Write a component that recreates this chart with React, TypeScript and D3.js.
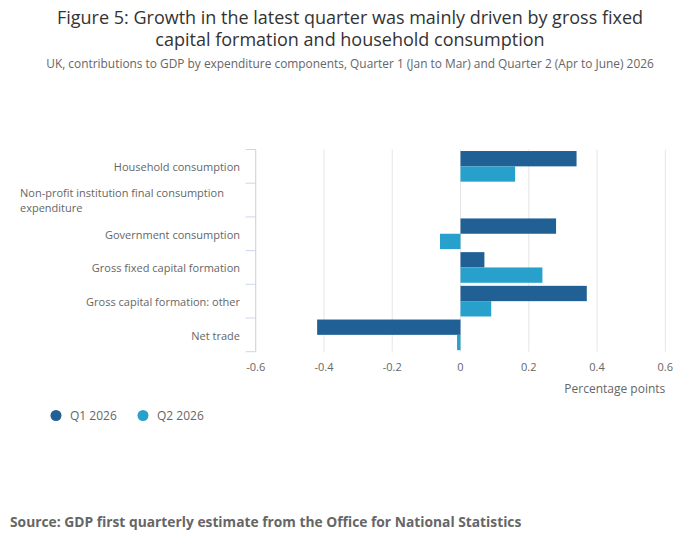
import React from "react";
import * as d3 from "d3";

const categories = [
  "Household consumption",
  "Non-profit institution final consumption expenditure",
  "Government consumption",
  "Gross fixed capital formation",
  "Gross capital formation: other",
  "Net trade",
];
const seriesNames = ["Q1 2026", "Q2 2026"];
const q1Values: (number | null)[] = [0.34, null, 0.28, 0.07, 0.37, -0.42];
const q2Values: (number | null)[] = [0.16, null, -0.06, 0.24, 0.09, -0.01];
const xTicks = [-0.6, -0.4, -0.2, 0, 0.2, 0.4, 0.6];
const colors = ["#206095", "#27a0cc"];

const W = 700;
const H = 549;
const plot = { left: 255.7, right: 665.3, top: 149.5, bottom: 351.7 };
const font = "'Open Sans', 'Noto Sans', sans-serif";

export default function App() {
  const x = d3.scaleLinear().domain([-0.6, 0.6]).range([plot.left, plot.right]);
  const yBand = d3
    .scaleBand<string>()
    .domain(categories)
    .range([plot.top, plot.bottom])
    .paddingInner(0)
    .paddingOuter(0);
  const sub = d3
    .scaleBand<string>()
    .domain(seriesNames)
    .range([0, yBand.bandwidth()])
    .paddingOuter(0.1)
    .paddingInner(0)
    .align(0.5);
  const series = [q1Values, q2Values];
  const fmt = (v: number) => String(Math.round(v * 10) / 10);

  return (
    <svg
      width={W}
      height={H}
      style={{ position: "absolute", left: 0, top: 0, fontFamily: font, background: "#fff" }}
    >
      <rect x={0} y={0} width={W} height={H} fill="#fff" />
      <text textAnchor="middle" fontSize={18} fill="#333">
        <tspan x={W / 2} y={24}>
          Figure 5: Growth in the latest quarter was mainly driven by gross fixed
        </tspan>
        <tspan x={W / 2} y={46}>
          capital formation and household consumption
        </tspan>
      </text>
      <text x={W / 2} y={68} textAnchor="middle" fontSize={11.9} fill="#666">
        UK, contributions to GDP by expenditure components, Quarter 1 (Jan to Mar) and Quarter 2 (Apr to June) 2026
      </text>

      {xTicks.map((t) => (
        <line
          key={"g" + t}
          x1={x(t)}
          x2={x(t)}
          y1={plot.top}
          y2={plot.bottom}
          stroke="#e6e6e6"
          strokeWidth={1}
        />
      ))}

      <line x1={plot.left} x2={plot.left} y1={plot.top} y2={plot.bottom} stroke="#ccd6eb" strokeWidth={1} />
      {categories.map((c, i) => (
        <line
          key={"t" + i}
          x1={plot.left - 10}
          x2={plot.left}
          y1={yBand(c)!}
          y2={yBand(c)!}
          stroke="#ccd6eb"
        />
      ))}
      <line x1={plot.left - 10} x2={plot.left} y1={plot.bottom} y2={plot.bottom} stroke="#ccd6eb" />

      {series.map((vals, si) =>
        vals.map((v, ci) => {
          if (v === null) return null;
          const y0 = yBand(categories[ci])! + sub(seriesNames[si])!;
          return (
            <rect
              key={"b" + si + "-" + ci}
              x={Math.min(x(0), x(v))}
              y={y0}
              width={Math.abs(x(v) - x(0))}
              height={sub.bandwidth()}
              fill={colors[si]}
            />
          );
        })
      )}

      {categories.map((c, i) => {
        const cy = yBand(c)! + yBand.bandwidth() / 2;
        if (i === 1) {
          return (
            <text key={"l" + i} x={20} fontSize={11} fill="#666">
              <tspan x={20} y={cy - 3}>Non-profit institution final consumption</tspan>
              <tspan x={20} y={cy + 12}>expenditure</tspan>
            </text>
          );
        }
        return (
          <text key={"l" + i} x={240} y={cy + 5} textAnchor="end" fontSize={11} fill="#666">
            {c}
          </text>
        );
      })}

      {xTicks.map((t) => (
        <text key={"xl" + t} x={x(t)} y={371} textAnchor="middle" fontSize={11} fill="#666">
          {fmt(t)}
        </text>
      ))}
      <text x={plot.right} y={393} textAnchor="end" fontSize={12} fill="#666">
        Percentage points
      </text>

      {seriesNames.map((s, i) => {
        const lx = 56 + i * 87;
        return (
          <g key={"lg" + i}>
            <circle cx={lx} cy={415.5} r={5.5} fill={colors[i]} />
            <text x={lx + 14} y={420} fontSize={12} fill="#666">
              {s}
            </text>
          </g>
        );
      })}

      <text x={10} y={527} fontSize={13.8} fontWeight="bold" fill="#666">
        Source: GDP first quarterly estimate from the Office for National Statistics
      </text>
    </svg>
  );
}
